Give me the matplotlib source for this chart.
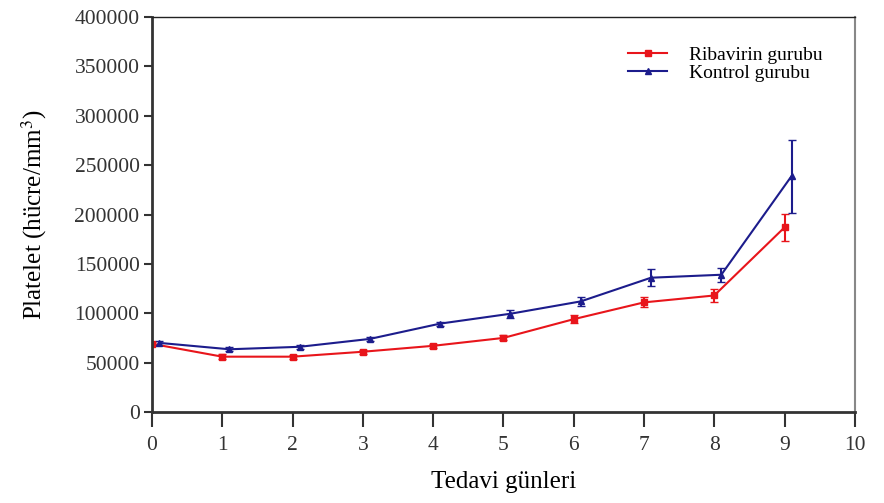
import numpy as np
import matplotlib.pyplot as plt

plt.rcParams['font.family'] = ['Liberation Serif', 'DejaVu Serif']
plt.rcParams['mathtext.fontset'] = 'stix'

# days (blue series drawn slightly shifted like the original)
days = [0, 1, 2, 3, 4, 5, 6, 7, 8, 9]
shift = 0.1

ribavirin = [69000, 56000, 56000, 61000, 67000, 75000, 94000, 111000, 118000, 187000]
ribavirin_err = [2000, 2500, 2000, 2000, 2000, 2500, 4000, 5000, 7000, 14000]
kontrol = [70000, 63500, 66000, 74000, 89500, 99500, 112000, 136000, 139000, 239000]
kontrol_err = [2000, 2000, 2000, 2000, 2000, 4000, 4500, 8500, 7000, 37000]

red = '#e8151b'
blue = '#1c1c8c'

fig = plt.figure(figsize=(8.84, 5.03), dpi=100)
ax = fig.add_axes([0.172, 0.181, 0.795, 0.785])

xb = np.array(days) + shift
ax.errorbar(days, ribavirin, yerr=ribavirin_err, fmt='none', ecolor=red,
            capsize=3, elinewidth=1.5)
ax.errorbar(xb, kontrol, yerr=kontrol_err, fmt='none', ecolor=blue,
            capsize=3, elinewidth=1.5)
ax.plot(days, ribavirin, color=red, marker='s', markersize=4.5, lw=1.5,
        label='Ribavirin gurubu')
ax.plot(xb, kontrol, color=blue, marker='^', markersize=5, lw=1.5,
        label='Kontrol gurubu')

ax.set_xlim(0, 10)
ax.set_ylim(0, 400000)
ax.set_xticks(range(0, 11))
ax.set_yticks(range(0, 400001, 50000))
ax.tick_params(direction='out', width=1.5, labelsize=15.5, colors='#333333')
ax.tick_params(axis='y', length=6, pad=3)
ax.tick_params(axis='x', length=11, pad=6)

for s in ['left', 'bottom']:
    ax.spines[s].set_linewidth(2)
    ax.spines[s].set_color('#333333')
ax.spines['top'].set_linewidth(1)
ax.spines['top'].set_color('#222222')
ax.spines['right'].set_linewidth(1.5)
ax.spines['right'].set_color('#888888')

ax.set_xlabel('Tedavi günleri', fontsize=18, labelpad=12)
ax.set_ylabel('Platelet (hücre/mm$^3$)', fontsize=18, labelpad=18)

ax.legend(loc='upper left', frameon=False, fontsize=14, handlelength=2.0,
          handletextpad=1.1, bbox_to_anchor=(0.653, 0.97), labelspacing=0.0)

plt.savefig('out.png', dpi=100)
